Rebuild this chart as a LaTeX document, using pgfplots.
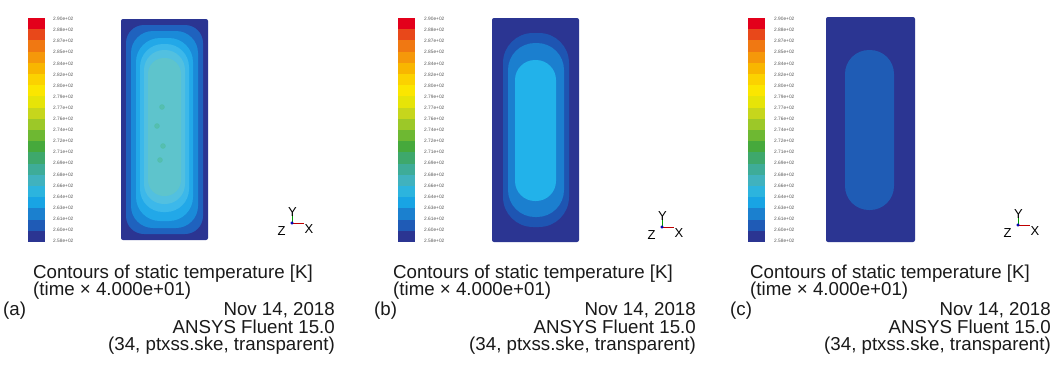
\documentclass[border=0pt]{standalone}
\usepackage{fontspec}
\setmainfont{Liberation Sans}
\usepackage{pgfplots}
\usepackage{pgfplotstable}
\pgfplotsset{compat=1.18}

% colour bar bands, top (1) to bottom (20)
\definecolor{cb1}{HTML}{E3001B}
\definecolor{cb2}{HTML}{E8481A}
\definecolor{cb3}{HTML}{F07812}
\definecolor{cb4}{HTML}{F5980A}
\definecolor{cb5}{HTML}{F8B600}
\definecolor{cb6}{HTML}{FBD200}
\definecolor{cb7}{HTML}{FBE600}
\definecolor{cb8}{HTML}{E6E408}
\definecolor{cb9}{HTML}{C6D61C}
\definecolor{cb10}{HTML}{9CC828}
\definecolor{cb11}{HTML}{6EB832}
\definecolor{cb12}{HTML}{46A93C}
\definecolor{cb13}{HTML}{3EA86C}
\definecolor{cb14}{HTML}{3EAC98}
\definecolor{cb15}{HTML}{40B2BE}
\definecolor{cb16}{HTML}{2CB4DE}
\definecolor{cb17}{HTML}{18A4E4}
\definecolor{cb18}{HTML}{1B80CF}
\definecolor{cb19}{HTML}{1F5BB6}
\definecolor{cb20}{HTML}{2B3592}
% field colours
\definecolor{fA2}{HTML}{1F62BE}
\definecolor{fA3}{HTML}{1A8AD8}
\definecolor{fA4}{HTML}{22A8E8}
\definecolor{fA5}{HTML}{3CB8EA}
\definecolor{fA6}{HTML}{52C0E0}
\definecolor{fA7}{HTML}{5EC4CC}
\definecolor{fAs}{HTML}{4EBC9A}
\definecolor{fB2}{HTML}{1E55B2}
\definecolor{fB3}{HTML}{1B7FCF}
\definecolor{fB4}{HTML}{22B2EA}
\definecolor{fC2}{HTML}{1F5CB5}
\definecolor{txt}{HTML}{1A1A1A}

\newcommand{\band}[5]{\addplot[fill=#1,draw=none,forget plot] coordinates {(#2,#4) (#3,#4) (#3,#5) (#2,#5)} --cycle;}
\newcommand{\rr}[6]{\addplot[fill=#1,draw=none,forget plot,rounded corners=#6bp] coordinates {(#2,#4) (#3,#4) (#3,#5) (#2,#5)} --cycle;}

\pgfplotstableread{
y lab
19 2.90e+02
30.1 2.88e+02
41.2 2.87e+02
52.3 2.85e+02
63.4 2.84e+02
74.5 2.82e+02
85.6 2.80e+02
96.7 2.79e+02
107.8 2.77e+02
118.9 2.76e+02
130 2.74e+02
141.1 2.72e+02
152.2 2.71e+02
163.3 2.69e+02
174.4 2.68e+02
185.5 2.66e+02
196.6 2.64e+02
207.7 2.63e+02
218.8 2.61e+02
229.9 2.60e+02
241 2.58e+02
}\cblab

\newcommand{\bigtxt}{\fontsize{18.7bp}{20bp}\selectfont}
\newcommand{\triadtxt}{\fontsize{13bp}{14bp}\selectfont}
\newcommand{\cbtxt}{\fontsize{4.8bp}{5bp}\selectfont}

\begin{document}
\begin{tikzpicture}
\begin{axis}[
  x=1bp, y=1bp, y dir=reverse,
  xmin=0, xmax=1055, ymin=0, ymax=365,
  hide axis, clip=false, scale only axis,
]
% background
\addplot[fill=white,draw=none,forget plot] coordinates {(0,0) (1055,0) (1055,365) (0,365)} --cycle;

% ---------- colour bars ----------
% panel (a)
\band{cb1}{28}{45}{18}{29.2}
\band{cb2}{28}{45}{29.2}{40.4}
\band{cb3}{28}{45}{40.4}{51.6}
\band{cb4}{28}{45}{51.6}{62.8}
\band{cb5}{28}{45}{62.8}{74}
\band{cb6}{28}{45}{74}{85.2}
\band{cb7}{28}{45}{85.2}{96.4}
\band{cb8}{28}{45}{96.4}{107.6}
\band{cb9}{28}{45}{107.6}{118.8}
\band{cb10}{28}{45}{118.8}{130}
\band{cb11}{28}{45}{130}{141.2}
\band{cb12}{28}{45}{141.2}{152.4}
\band{cb13}{28}{45}{152.4}{163.6}
\band{cb14}{28}{45}{163.6}{174.8}
\band{cb15}{28}{45}{174.8}{186}
\band{cb16}{28}{45}{186}{197.2}
\band{cb17}{28}{45}{197.2}{208.4}
\band{cb18}{28}{45}{208.4}{219.6}
\band{cb19}{28}{45}{219.6}{230.8}
\band{cb20}{28}{45}{230.8}{242}
% panel (b)
\band{cb1}{398}{415}{18}{29.2}
\band{cb2}{398}{415}{29.2}{40.4}
\band{cb3}{398}{415}{40.4}{51.6}
\band{cb4}{398}{415}{51.6}{62.8}
\band{cb5}{398}{415}{62.8}{74}
\band{cb6}{398}{415}{74}{85.2}
\band{cb7}{398}{415}{85.2}{96.4}
\band{cb8}{398}{415}{96.4}{107.6}
\band{cb9}{398}{415}{107.6}{118.8}
\band{cb10}{398}{415}{118.8}{130}
\band{cb11}{398}{415}{130}{141.2}
\band{cb12}{398}{415}{141.2}{152.4}
\band{cb13}{398}{415}{152.4}{163.6}
\band{cb14}{398}{415}{163.6}{174.8}
\band{cb15}{398}{415}{174.8}{186}
\band{cb16}{398}{415}{186}{197.2}
\band{cb17}{398}{415}{197.2}{208.4}
\band{cb18}{398}{415}{208.4}{219.6}
\band{cb19}{398}{415}{219.6}{230.8}
\band{cb20}{398}{415}{230.8}{242}
% panel (c)
\band{cb1}{748}{765}{18}{29.2}
\band{cb2}{748}{765}{29.2}{40.4}
\band{cb3}{748}{765}{40.4}{51.6}
\band{cb4}{748}{765}{51.6}{62.8}
\band{cb5}{748}{765}{62.8}{74}
\band{cb6}{748}{765}{74}{85.2}
\band{cb7}{748}{765}{85.2}{96.4}
\band{cb8}{748}{765}{96.4}{107.6}
\band{cb9}{748}{765}{107.6}{118.8}
\band{cb10}{748}{765}{118.8}{130}
\band{cb11}{748}{765}{130}{141.2}
\band{cb12}{748}{765}{141.2}{152.4}
\band{cb13}{748}{765}{152.4}{163.6}
\band{cb14}{748}{765}{163.6}{174.8}
\band{cb15}{748}{765}{174.8}{186}
\band{cb16}{748}{765}{186}{197.2}
\band{cb17}{748}{765}{197.2}{208.4}
\band{cb18}{748}{765}{208.4}{219.6}
\band{cb19}{748}{765}{219.6}{230.8}
\band{cb20}{748}{765}{230.8}{242}

% colour-bar labels
\addplot[draw=none,mark=none,forget plot,nodes near coords,point meta=explicit symbolic,
  nodes near coords style={anchor=west,inner sep=0pt,font=\cbtxt,text=black!65}]
  table[x expr=53,y=y,meta=lab] {\cblab};
\addplot[draw=none,mark=none,forget plot,nodes near coords,point meta=explicit symbolic,
  nodes near coords style={anchor=west,inner sep=0pt,font=\cbtxt,text=black!65}]
  table[x expr=424,y=y,meta=lab] {\cblab};
\addplot[draw=none,mark=none,forget plot,nodes near coords,point meta=explicit symbolic,
  nodes near coords style={anchor=west,inner sep=0pt,font=\cbtxt,text=black!65}]
  table[x expr=774,y=y,meta=lab] {\cblab};

% ---------- temperature fields ----------
% (a)
\rr{cb20}{121}{208}{19}{240}{2}
\rr{fA2}{126}{203}{25}{234}{18}
\rr{fA3}{131}{198}{31}{228}{22}
\rr{fA4}{136}{193}{38}{221}{24}
\rr{fA5}{140}{189}{44}{212}{23}
\rr{fA6}{144}{185}{50}{204}{20}
\rr{fA7}{148}{181}{58}{196}{16}
\addplot[only marks,mark=*,mark size=2.5bp,color=fAs,opacity=0.55,forget plot] coordinates {(162,107) (157,126) (163,146) (160,160)};
% (b)
\rr{cb20}{492}{579}{18}{242}{2}
\rr{fB2}{503}{569}{33}{227}{30}
\rr{fB3}{508}{564}{43}{217}{27}
\rr{fB4}{515}{556}{60}{201}{20}
% (c)
\rr{cb20}{826}{915}{17}{242}{2}
\rr{fC2}{845}{894}{50}{210}{24}

% ---------- axis triads ----------
% (a)
\addplot[green!60!black,line width=1bp,forget plot] coordinates {(292,215) (292,223)};
\addplot[red!75!black,line width=1bp,forget plot] coordinates {(292,223) (304,223)};
\addplot[only marks,mark=*,mark size=1.3bp,color=blue!70!black,forget plot] coordinates {(292,223)};
\node[font=\triadtxt,inner sep=0pt] at (axis cs:292.5,212.5) {Y};
\node[font=\triadtxt,inner sep=0pt] at (axis cs:281.5,231) {Z};
\node[font=\triadtxt,inner sep=0pt] at (axis cs:309,229) {X};
% (b)
\addplot[green!60!black,line width=1bp,forget plot] coordinates {(662,219) (662,227)};
\addplot[red!75!black,line width=1bp,forget plot] coordinates {(662,227) (674,227)};
\addplot[only marks,mark=*,mark size=1.3bp,color=blue!70!black,forget plot] coordinates {(662,227)};
\node[font=\triadtxt,inner sep=0pt] at (axis cs:662.5,216.5) {Y};
\node[font=\triadtxt,inner sep=0pt] at (axis cs:651.5,235) {Z};
\node[font=\triadtxt,inner sep=0pt] at (axis cs:679,233) {X};
% (c)
\addplot[green!60!black,line width=1bp,forget plot] coordinates {(1018,217) (1018,225)};
\addplot[red!75!black,line width=1bp,forget plot] coordinates {(1018,225) (1030,225)};
\addplot[only marks,mark=*,mark size=1.3bp,color=blue!70!black,forget plot] coordinates {(1018,225)};
\node[font=\triadtxt,inner sep=0pt] at (axis cs:1018.5,214.5) {Y};
\node[font=\triadtxt,inner sep=0pt] at (axis cs:1007.5,233) {Z};
\node[font=\triadtxt,inner sep=0pt] at (axis cs:1035,231) {X};

% ---------- captions ----------
% (a)
\node[font=\bigtxt,text=txt,anchor=base west,inner sep=0pt] at (axis cs:33,278) {Contours of static temperature [K]};
\node[font=\bigtxt,text=txt,anchor=base west,inner sep=0pt] at (axis cs:33,295) {(time × 4.000e+01)};
\node[font=\bigtxt,text=txt,anchor=base west,inner sep=0pt] at (axis cs:3,315) {(a)};
\node[font=\bigtxt,text=txt,anchor=base east,inner sep=0pt] at (axis cs:335,315) {Nov 14, 2018};
\node[font=\bigtxt,text=txt,anchor=base east,inner sep=0pt] at (axis cs:335,333) {ANSYS Fluent 15.0};
\node[font=\bigtxt,text=txt,anchor=base east,inner sep=0pt] at (axis cs:335,350) {(34, ptxss.ske, transparent)};
% (b)
\node[font=\bigtxt,text=txt,anchor=base west,inner sep=0pt] at (axis cs:393,278) {Contours of static temperature [K]};
\node[font=\bigtxt,text=txt,anchor=base west,inner sep=0pt] at (axis cs:393,295) {(time × 4.000e+01)};
\node[font=\bigtxt,text=txt,anchor=base west,inner sep=0pt] at (axis cs:374,315) {(b)};
\node[font=\bigtxt,text=txt,anchor=base east,inner sep=0pt] at (axis cs:696,315) {Nov 14, 2018};
\node[font=\bigtxt,text=txt,anchor=base east,inner sep=0pt] at (axis cs:696,333) {ANSYS Fluent 15.0};
\node[font=\bigtxt,text=txt,anchor=base east,inner sep=0pt] at (axis cs:696,350) {(34, ptxss.ske, transparent)};
% (c)
\node[font=\bigtxt,text=txt,anchor=base west,inner sep=0pt] at (axis cs:750,278) {Contours of static temperature [K]};
\node[font=\bigtxt,text=txt,anchor=base west,inner sep=0pt] at (axis cs:750,295) {(time × 4.000e+01)};
\node[font=\bigtxt,text=txt,anchor=base west,inner sep=0pt] at (axis cs:730,315) {(c)};
\node[font=\bigtxt,text=txt,anchor=base east,inner sep=0pt] at (axis cs:1051,315) {Nov 14, 2018};
\node[font=\bigtxt,text=txt,anchor=base east,inner sep=0pt] at (axis cs:1051,333) {ANSYS Fluent 15.0};
\node[font=\bigtxt,text=txt,anchor=base east,inner sep=0pt] at (axis cs:1051,350) {(34, ptxss.ske, transparent)};
\end{axis}
\end{tikzpicture}
\end{document}
